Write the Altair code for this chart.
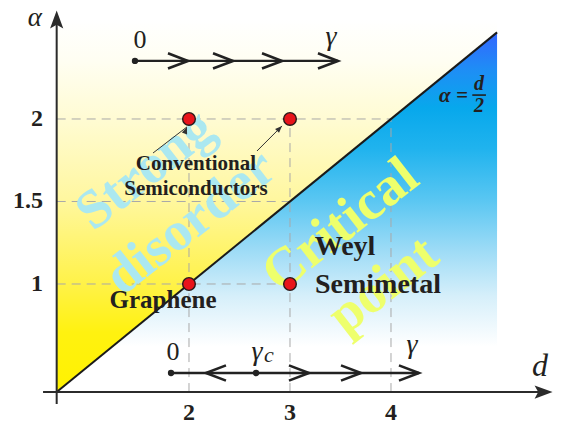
import altair as alt
import pandas as pd

# ---------------- frame (data units: d horizontally, alpha vertically) -------------
D_DOMAIN = [0.208, 5.614]
A_DOMAIN = [0.2, 2.6727]

# axes (schematic origin)
axis_x_d = [0.555, 5.55]
axis_x_a = 0.345
axis_y_d = 0.69
axis_y_a = [0.273, 2.62]
arrow_x_tip = [5.60, 0.345]
arrow_y_tip = [0.69, 2.658]

# critical line alpha = d/2
crit_d = [0.69, 5.05]

# shaded regions
yellow_d = [0.69, 5.05]
yellow_top = 2.60
blue_d = [1.24, 5.05]
blue_bottom = 0.62

# dashed guides
grid_h_a = [1.0, 1.5, 2.0]
grid_h_end = [3.0, 3.0, 4.0]
grid_v_d = [2.0, 3.0, 4.0]
grid_v_end = [2.0, 2.0, 2.0]

# tick labels
x_ticks = [2, 3, 4]
x_tick_labels = ["2", "3", "4"]
x_tick_a = 0.218
y_ticks = [1.0, 1.5, 2.0]
y_tick_labels = ["1", "1.5", "2"]
y_tick_d = 0.555

# materials (red points)
mat_d = [2, 3, 2, 3]
mat_a = [2, 2, 1, 1]

# RG flow lines
top_flow_a = 2.352
top_flow_d = [1.465, 3.475]
top_dot_d = [1.465]
top_chev_d = [1.990, 2.436, 2.921, 3.475]
bot_flow_a = 0.4606
bot_flow_d = [1.822, 4.277]
bot_dot_d = [1.822, 2.664]
bot_chev_left_d = [2.168]
bot_chev_right_d = [3.188, 3.703, 4.277]

# annotation arrows (Conventional Semiconductors)
ann_from_d = [1.644, 2.673]
ann_from_a = [1.794, 1.806]
ann_to_d = [1.980, 2.921]
ann_to_a = [1.952, 1.958]
ann_angle = [21, 45]

# labels
bold_text = ["Conventional", "Semiconductors", "Graphene", "Weyl", "Semimetal"]
bold_d = [2.069, 2.069, 1.743, 3.545, 3.871]
bold_a = [1.727, 1.576, 0.903, 1.224, 0.994]
bold_size = [21, 21, 25, 28, 28]

mark_text_cyan = ["Strong", "disorder"]
cyan_d = [1.564, 2.010]
cyan_a = [1.691, 1.376]
mark_text_yel = ["Critical", "point"]
yel_d = [3.495, 3.921]
yel_a = [1.358, 0.994]

# italic symbols, alphabetic baseline
ital_text = ["α", "d", "γ", "γ", "γ"]
ital_d = [0.475, 5.475, 3.406, 4.208, 2.673]
ital_a = [2.564, 0.440, 2.447, 0.580, 0.538]
ital_size = [27, 32, 28, 28, 28]
sub_text = ["c"]
sub_d = [2.790]
sub_a = [0.525]

zero_text = ["0", "0"]
zero_d = [1.515, 1.842]
zero_a = [2.479, 0.588]

# alpha = d/2 label
eq_d = 4.762
eq_a = 2.139
frac_d = 4.871
frac_num_a = 2.214
frac_den_a = 2.077
frac_bar_d = [4.805, 4.94]
frac_bar_a = 2.145

# ---------------- helpers ----------------
xs = alt.Scale(domain=D_DOMAIN, nice=False, zero=False)
ys = alt.Scale(domain=A_DOMAIN, nice=False, zero=False)


def X(f="d"):
    return alt.X(f, type="quantitative", scale=xs, axis=None)


def Y(f="a"):
    return alt.Y(f, type="quantitative", scale=ys, axis=None)


SERIF = "'Liberation Serif', 'Times New Roman', Times, 'DejaVu Serif', serif"
INK = "#231F20"

# ---------------- layers ----------------
yellow_df = pd.DataFrame({"d": yellow_d, "a": [v / 2 for v in yellow_d], "a2": [yellow_top] * 2})
yellow = alt.Chart(yellow_df).mark_area(
    fill=alt.Gradient(
        gradient="linear", x1=0, x2=0, y1=0, y2=1,
        stops=[
            alt.GradientStop(color="#FFFFFF", offset=0),
            alt.GradientStop(color="#FFFEF2", offset=0.11),
            alt.GradientStop(color="#FFFBD2", offset=0.27),
            alt.GradientStop(color="#FFF7A0", offset=0.48),
            alt.GradientStop(color="#FFF248", offset=0.71),
            alt.GradientStop(color="#FFF210", offset=0.84),
            alt.GradientStop(color="#FFF200", offset=1),
        ],
    ),
    opacity=1,
).encode(x=X("d"), y=Y("a"), y2=alt.Y2("a2"))

blue_df = pd.DataFrame({"d": blue_d, "a": [v / 2 for v in blue_d], "a2": [blue_bottom] * 2})
blue = alt.Chart(blue_df).mark_area(
    fill=alt.Gradient(
        gradient="linear", x1=0, x2=0, y1=0, y2=1,
        stops=[
            alt.GradientStop(color="#3366FF", offset=0),
            alt.GradientStop(color="#1E8EF5", offset=0.12),
            alt.GradientStop(color="#07A8EC", offset=0.24),
            alt.GradientStop(color="#20B3EE", offset=0.37),
            alt.GradientStop(color="#58C6F2", offset=0.53),
            alt.GradientStop(color="#9CDBF6", offset=0.69),
            alt.GradientStop(color="#D6EFFA", offset=0.84),
            alt.GradientStop(color="#FFFFFF", offset=1),
        ],
    ),
    opacity=1,
).encode(x=X("d"), y=Y("a"), y2=alt.Y2("a2"))

gh_df = pd.DataFrame({"d": [axis_y_d] * 3, "d2": grid_h_end, "a": grid_h_a, "a2": grid_h_a})
gv_df = pd.DataFrame({"d": grid_v_d, "d2": grid_v_d, "a": [axis_x_a] * 3, "a2": grid_v_end})
grid_df = pd.concat([gh_df, gv_df], ignore_index=True)
grid = alt.Chart(grid_df).mark_rule(color="#A8A8A8", strokeWidth=1, strokeDash=[9, 6]).encode(
    x=X("d"), x2=alt.X2("d2"), y=Y("a"), y2=alt.Y2("a2")
)

cyan_df = pd.DataFrame({"t": mark_text_cyan, "d": cyan_d, "a": cyan_a})
cyan = alt.Chart(cyan_df).mark_text(
    font=SERIF, fontWeight="bold", fontSize=55, angle=322, color="#ABE8F0",
    align="center", baseline="middle",
).encode(x=X("d"), y=Y("a"), text="t:N")

yel_df = pd.DataFrame({"t": mark_text_yel, "d": yel_d, "a": yel_a})
yel = alt.Chart(yel_df).mark_text(
    font=SERIF, fontWeight="bold", fontSize=55, angle=322, color="#EEFF6C",
    align="center", baseline="middle",
).encode(x=X("d"), y=Y("a"), text="t:N")

crit_df = pd.DataFrame({"d": crit_d, "a": [v / 2 for v in crit_d]})
crit = alt.Chart(crit_df).mark_line(color="#1A1A1A", strokeWidth=2).encode(x=X("d"), y=Y("a"))

axes_df = pd.DataFrame({
    "d": [axis_x_d[0], axis_y_d], "d2": [axis_x_d[1], axis_y_d],
    "a": [axis_x_a, axis_y_a[0]], "a2": [axis_x_a, axis_y_a[1]],
})
axes = alt.Chart(axes_df).mark_rule(color="#2B2B2B", strokeWidth=2).encode(
    x=X("d"), x2=alt.X2("d2"), y=Y("a"), y2=alt.Y2("a2")
)
arr_y = alt.Chart(pd.DataFrame({"d": [arrow_y_tip[0]], "a": [arrow_y_tip[1]]})).mark_point(
    shape="M0,0L0.33,0.9L0,0.72L-0.33,0.9Z", size=1600, filled=True, color="#2B2B2B", opacity=1
).encode(x=X("d"), y=Y("a"))
arr_x = alt.Chart(pd.DataFrame({"d": [arrow_x_tip[0]], "a": [arrow_x_tip[1]]})).mark_point(
    shape="M0,0L-0.9,-0.33L-0.72,0L-0.9,0.33Z", size=1600, filled=True, color="#2B2B2B", opacity=1
).encode(x=X("d"), y=Y("a"))

flow_df = pd.DataFrame({
    "d": [top_flow_d[0], bot_flow_d[0]], "d2": [top_flow_d[1], bot_flow_d[1]],
    "a": [top_flow_a, bot_flow_a],
})
flows = alt.Chart(flow_df).mark_rule(color="#222222", strokeWidth=2.4).encode(
    x=X("d"), x2=alt.X2("d2"), y=Y("a")
)
chev_r_df = pd.DataFrame({
    "d": top_chev_d + bot_chev_right_d,
    "a": [top_flow_a] * len(top_chev_d) + [bot_flow_a] * len(bot_chev_right_d),
})
chev_r = alt.Chart(chev_r_df).mark_point(
    shape="M-1,-0.38L0,0L-1,0.38", size=1600, filled=False, color="#222222", strokeWidth=2.6, opacity=1
).encode(x=X("d"), y=Y("a"))
chev_l = alt.Chart(pd.DataFrame({"d": bot_chev_left_d, "a": [bot_flow_a]})).mark_point(
    shape="M1,-0.38L0,0L1,0.38", size=1600, filled=False, color="#222222", strokeWidth=2.6, opacity=1
).encode(x=X("d"), y=Y("a"))
fdots_df = pd.DataFrame({
    "d": top_dot_d + bot_dot_d,
    "a": [top_flow_a] * len(top_dot_d) + [bot_flow_a] * len(bot_dot_d),
})
fdots = alt.Chart(fdots_df).mark_point(
    shape="circle", size=40, filled=True, color="#222222", opacity=1
).encode(x=X("d"), y=Y("a"))

ann_df = pd.DataFrame({"d": ann_from_d, "a": ann_from_a, "d2": ann_to_d, "a2": ann_to_a, "ang": ann_angle})
ann = alt.Chart(ann_df).mark_rule(color="#333333", strokeWidth=1).encode(
    x=X("d"), x2=alt.X2("d2"), y=Y("a"), y2=alt.Y2("a2")
)
ann_heads = alt.Chart(ann_df).mark_point(
    shape="M0,0L0.4,1L-0.4,1Z", size=196, filled=True, color="#333333", opacity=1
).encode(x=X("d2"), y=Y("a2"), angle=alt.Angle("ang:Q", scale=None))

mats_df = pd.DataFrame({"d": mat_d, "a": mat_a})
mats = alt.Chart(mats_df).mark_point(
    shape="circle", size=160, filled=True, fill="#E8141B", stroke="#2A1A1A", strokeWidth=1.4, opacity=1
).encode(x=X("d"), y=Y("a"))

bold_df = pd.DataFrame({"t": bold_text, "d": bold_d, "a": bold_a, "s": bold_size})
bold = alt.Chart(bold_df).mark_text(
    font=SERIF, fontWeight="bold", color=INK, align="center", baseline="middle"
).encode(x=X("d"), y=Y("a"), text="t:N", size=alt.Size("s:Q", scale=None, legend=None))

xt_df = pd.DataFrame({"t": x_tick_labels, "d": x_ticks, "a": [x_tick_a] * 3})
xt = alt.Chart(xt_df).mark_text(
    font=SERIF, fontWeight="bold", fontSize=24, color=INK, align="center", baseline="middle"
).encode(x=X("d"), y=Y("a"), text="t:N")
yt_df = pd.DataFrame({"t": y_tick_labels, "d": [y_tick_d] * 3, "a": y_ticks})
yt = alt.Chart(yt_df).mark_text(
    font=SERIF, fontWeight="bold", fontSize=24, color=INK, align="right", baseline="middle"
).encode(x=X("d"), y=Y("a"), text="t:N")

ital_df = pd.DataFrame({"t": ital_text, "d": ital_d, "a": ital_a, "s": ital_size})
ital = alt.Chart(ital_df).mark_text(
    font=SERIF, fontStyle="italic", color=INK, align="center", baseline="alphabetic"
).encode(x=X("d"), y=Y("a"), text="t:N", size=alt.Size("s:Q", scale=None, legend=None))
sub = alt.Chart(pd.DataFrame({"t": sub_text, "d": sub_d, "a": sub_a})).mark_text(
    font=SERIF, fontStyle="italic", fontSize=22, color=INK, align="center", baseline="alphabetic"
).encode(x=X("d"), y=Y("a"), text="t:N")
zeros = alt.Chart(pd.DataFrame({"t": zero_text, "d": zero_d, "a": zero_a})).mark_text(
    font=SERIF, fontSize=26, color=INK, align="center", baseline="middle"
).encode(x=X("d"), y=Y("a"), text="t:N")

eq = alt.Chart(pd.DataFrame({"t": ["α ="], "d": [eq_d], "a": [eq_a]})).mark_text(
    font=SERIF, fontStyle="italic", fontWeight="bold", fontSize=21, color=INK, align="right", baseline="middle"
).encode(x=X("d"), y=Y("a"), text="t:N")
frac = alt.Chart(pd.DataFrame({"t": ["d", "2"], "d": [frac_d, frac_d], "a": [frac_num_a, frac_den_a]})).mark_text(
    font=SERIF, fontStyle="italic", fontWeight="bold", fontSize=20, color=INK, align="center", baseline="middle"
).encode(x=X("d"), y=Y("a"), text="t:N")
fbar = alt.Chart(pd.DataFrame({"d": [frac_bar_d[0]], "d2": [frac_bar_d[1]], "a": [frac_bar_a]})).mark_rule(
    color=INK, strokeWidth=1.6
).encode(x=X("d"), x2=alt.X2("d2"), y=Y("a"))

chart = alt.layer(
    yellow, blue, grid, cyan, yel, crit, axes, arr_y, arr_x,
    flows, chev_r, chev_l, fdots, ann, ann_heads, mats,
    bold, xt, yt, ital, sub, zeros, eq, frac, fbar,
).properties(
    width=546, height=408, autosize=alt.AutoSizeParams(type="none"),
    padding={"left": 0, "top": 0, "right": 0, "bottom": 8}, background="white"
).configure_view(stroke=None)

chart.save("out.html", embed_options={"renderer": "svg", "actions": False})
